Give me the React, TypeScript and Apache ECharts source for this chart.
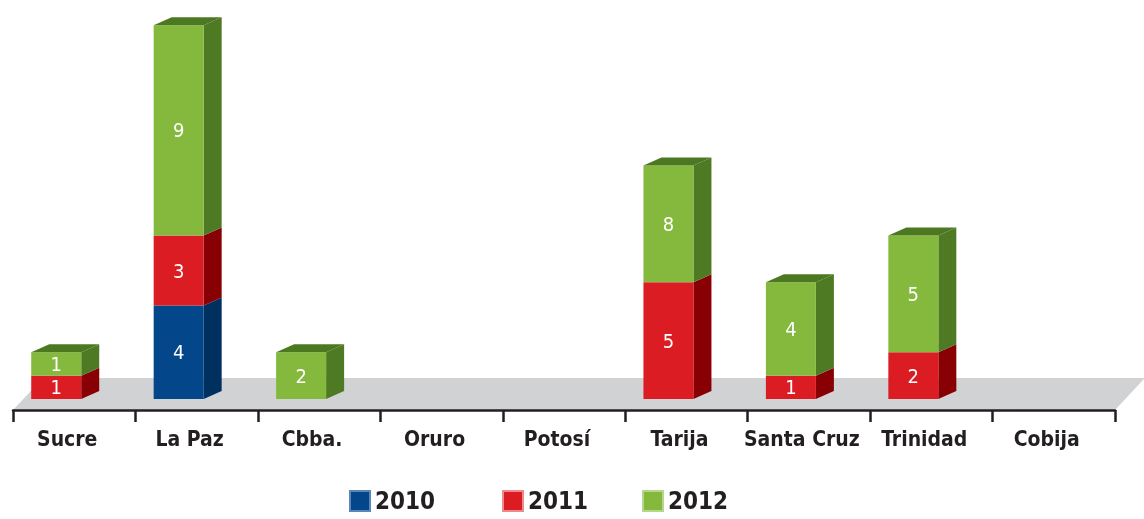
import React, { useEffect, useRef } from "react";
import * as echarts from "echarts";

const categories = ["Sucre", "La Paz", "Cbba.", "Oruro", "Potosí", "Tarija", "Santa Cruz", "Trinidad", "Cobija"];
const years = ["2010", "2011", "2012"];
// drawn heights
const values2010 = [0, 4, 0, 0, 0, 0, 0, 0, 0];
const values2011 = [1, 3, 0, 0, 0, 5, 1, 2, 0];
const values2012 = [1, 9, 2, 0, 0, 5, 4, 5, 0];
// numbers printed on the bars
const printed2010 = [0, 4, 0, 0, 0, 0, 0, 0, 0];
const printed2011 = [1, 3, 0, 0, 0, 5, 1, 2, 0];
const printed2012 = [1, 9, 2, 0, 0, 8, 4, 5, 0];

const W = 1144;
const H = 519;
const GRID_LEFT = 13;
const GRID_RIGHT = 29;
const GRID_TOP = 2;
const GRID_BOTTOM = 120;
const AXIS_OFFSET = 11;
const FLOOR_DEPTH = 32;
const FLOOR_SKEW = 30;
const BAR_W = 50;
const BAR_SHIFT = -18;
const DX = 18;
const DY = -8;
const NARROW = "'Liberation Sans Narrow', 'DejaVu Sans Condensed', 'Arial Narrow', sans-serif";
const LEGEND_LEFTS = [349, 502, 642];

const palette = [
  { front: "#03468a", side: "#00305f", top: "#012f5c", border: "#5a86b8" },
  { front: "#dc1c23", side: "#880004", top: "#9e0a10", border: "#ee8a8d" },
  { front: "#84b93d", side: "#4e7a24", top: "#4c7822", border: "#b5d68c" },
];

export default function App() {
  const ref = useRef<HTMLDivElement>(null);
  useEffect(() => {
    if (!ref.current) return;
    const chart = echarts.init(ref.current, null, { renderer: "svg" });
    const valueSets = [values2010, values2011, values2012];
    const printedSets = [printed2010, printed2011, printed2012];
    const totals = categories.map((_, i) => valueSets.reduce((s, arr) => s + arr[i], 0));

    const series = years.map((year, s) => {
      const data = categories.map((_, i) => {
        let base = 0;
        for (let k = 0; k < s; k++) base += valueSets[k][i];
        return [i, valueSets[s][i], base];
      });
      const col = palette[s];
      return {
        name: year,
        type: "custom",
        coordinateSystem: "cartesian2d",
        itemStyle: { color: col.front },
        encode: { x: 0, y: 1 },
        data,
        renderItem: (params: any, api: any) => {
          const i = api.value(0);
          const v = api.value(1);
          const base = api.value(2);
          if (!v) return { type: "group", children: [] };
          const p0 = api.coord([i, base]);
          const p1 = api.coord([i, base + v]);
          const cx = p0[0] + BAR_SHIFT;
          const xl = cx - BAR_W / 2;
          const xr = cx + BAR_W / 2;
          const yb = p0[1];
          const yt = p1[1];
          const children: any[] = [
            {
              type: "polygon",
              shape: { points: [[xr, yt], [xr + DX, yt + DY], [xr + DX, yb + DY], [xr, yb]] },
              style: { fill: col.side },
            },
            {
              type: "rect",
              shape: { x: xl, y: yt, width: BAR_W, height: yb - yt },
              style: { fill: col.front },
            },
          ];
          if (base + v >= totals[i]) {
            children.push({
              type: "polygon",
              shape: { points: [[xl, yt], [xl + DX, yt + DY], [xr + DX, yt + DY], [xr, yt]] },
              style: { fill: col.top },
            });
          }
          const lbl = printedSets[s][i];
          if (lbl) {
            children.push({
              type: "text",
              x: cx,
              y: (yt + yb) / 2,
              style: {
                text: String(lbl),
                fill: "#ffffff",
                fontSize: 20,
                fontFamily: NARROW,
                fontWeight: "normal",
                align: "center",
                verticalAlign: "middle",
              },
            });
          }
          return { type: "group", children };
        },
      };
    });

    const axisY = H - GRID_BOTTOM + AXIS_OFFSET;
    const rightX = W - GRID_RIGHT;

    chart.setOption({
      animation: false,
      grid: { left: GRID_LEFT, right: GRID_RIGHT, top: GRID_TOP, bottom: GRID_BOTTOM, containLabel: false },
      graphic: [
        {
          type: "polygon",
          z: -1,
          silent: true,
          shape: {
            points: [
              [GRID_LEFT, axisY],
              [rightX, axisY],
              [rightX + FLOOR_SKEW, axisY - FLOOR_DEPTH],
              [GRID_LEFT + FLOOR_SKEW, axisY - FLOOR_DEPTH],
            ],
          },
          style: { fill: "#d1d2d4" },
        },
      ],
      xAxis: {
        type: "category",
        data: categories,
        position: "bottom",
        offset: AXIS_OFFSET,
        axisLine: { show: true, onZero: false, lineStyle: { color: "#231f20", width: 2.5 } },
        axisTick: { show: true, inside: false, length: 12, lineStyle: { color: "#231f20", width: 2.5 } },
        axisLabel: {
          interval: 0,
          margin: 18,
          fontSize: 21,
          fontWeight: "bold",
          fontFamily: NARROW,
          color: "#231f20",
          padding: [0, 14, 0, 0],
        },
        splitLine: { show: false },
      },
      yAxis: { type: "value", show: false, min: 0, max: 17 },
      legend: years.map((y, s) => ({
        data: [
          {
            name: y,
            itemStyle: { color: palette[s].front, borderColor: palette[s].border, borderWidth: 2 },
          },
        ],
        icon: "rect",
        left: LEGEND_LEFTS[s],
        top: 488,
        padding: 0,
        itemWidth: 20,
        itemHeight: 20,
        textStyle: { fontSize: 24, lineHeight: 26, fontWeight: "bold", fontFamily: NARROW, color: "#231f20" },
      })),
      series,
    });
    return () => chart.dispose();
  }, []);
  return <div ref={ref} style={{ position: "fixed", left: 0, top: 0, width: W, height: H }} />;
}
